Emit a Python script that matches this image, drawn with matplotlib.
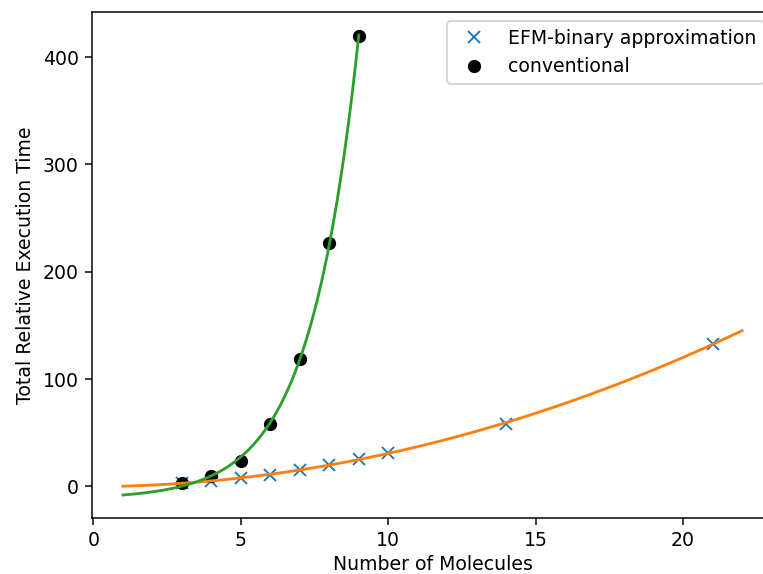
import numpy as np
import matplotlib
matplotlib.use("Agg")
import matplotlib.pyplot as plt

# measured relative execution times
efm_n = [3, 4, 5, 6, 7, 8, 9, 10, 14, 21]
efm_t = [3, 5, 7.5, 11, 15, 20, 25.5, 31.5, 58.5, 132.5]
conv_n = [3, 4, 5, 6, 7, 8, 9]
conv_t = [3, 10, 24, 58.5, 119, 227, 420]


def exp_fit(x, y):
    # y = a*exp(b*x) + c, scan b and solve a, c by least squares
    x = np.asarray(x, float)
    y = np.asarray(y, float)
    best = None
    for b in np.linspace(0.3, 1.2, 901):
        A = np.column_stack([np.exp(b * x), np.ones_like(x)])
        coef, res, _, _ = np.linalg.lstsq(A, y, rcond=None)
        err = np.sum((A @ coef - y) ** 2)
        if best is None or err < best[0]:
            best = (err, coef[0], b, coef[1])
    return best[1:]


fig = plt.figure(figsize=(763 / 136, 574 / 136), dpi=136)
# right edge of the axes runs slightly past the canvas
ax = fig.add_axes([0.1206, 0.0976, 0.8925, 0.8815])

ax.plot(efm_n, efm_t, 'x', label='EFM-binary approximation')
ax.plot(conv_n, conv_t, 'ko', label='conventional')

# fitted trends
xs = np.linspace(1, 22, 200)
ax.plot(xs, np.polyval(np.polyfit(efm_n, efm_t, 2), xs), color='C1')
a, b, c = exp_fit(conv_n, conv_t)
xs2 = np.linspace(1, 9, 200)
ax.plot(xs2, a * np.exp(b * xs2) + c, color='C2')

ax.set_xlabel('Number of Molecules', labelpad=2.5)
ax.set_ylabel('Total Relative Execution Time')
ax.legend(loc='upper right')
fig.savefig('out.png', dpi=136)
